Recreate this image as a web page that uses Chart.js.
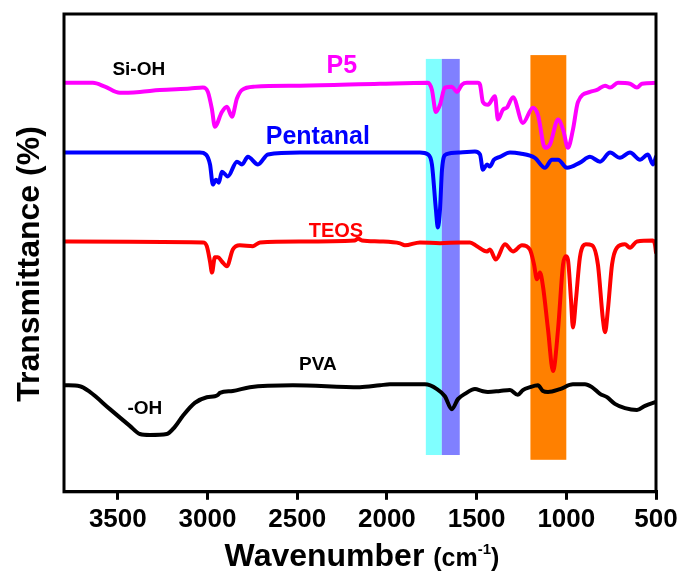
<!DOCTYPE html>
<html>
<head>
<meta charset="utf-8">
<script src="https://cdn.jsdelivr.net/npm/chart.js@4/dist/chart.umd.min.js"></script>
<style>
html,body{margin:0;padding:0;background:#fff;}
#wrap{width:684px;height:574px;}
</style>
</head>
<body>
<div id="wrap"><canvas id="c" width="684" height="574"></canvas></div>
<script>
// ---- data (wavenumber cm-1, relative transmittance) ----
const p5Wn = [3795,3639,3572,3489,3377,3266,3098,3026,2998,2975,2959,2920,2892,2864,2836,2808,2736,2485,2039,1771,1749,1727,1704,1677,1638,1610,1582,1554,1493,1481,1465,1437,1398,1381,1353,1331,1297,1242,1186,1158,1119,1091,1046,1018,991,963,935,868,829,784,756,712,645,606,578,500];
const p5T  = [85.6,85.6,84.8,83.5,83.7,84.1,84.4,84.6,83.7,80.0,76.4,79.5,80.6,78.5,82.3,84.1,84.8,85.0,85.4,85.6,84.1,79.5,81.0,84.6,84.8,83.7,85.2,85.6,85.6,85.2,81.6,81.0,82.8,77.9,80.0,80.4,82.6,77.2,80.4,78.9,72.0,72.7,77.9,75.8,72.0,75.8,81.6,83.7,84.1,85.0,84.6,85.6,85.4,84.6,85.4,85.6];

const pentWn = [3795,3043,3009,2986,2970,2953,2937,2920,2887,2836,2808,2775,2719,2663,2485,1816,1771,1749,1727,1716,1704,1693,1671,1593,1509,1481,1465,1442,1426,1403,1370,1314,1258,1175,1119,1080,1046,996,924,868,812,756,701,645,589,545,517,500];
const pentT  = [71.0,71.0,70.6,68.5,64.3,65.3,64.7,67.0,66.0,69.1,68.5,70.1,68.5,70.6,71.0,71.0,70.6,68.5,59.1,55.3,59.1,67.4,70.6,71.0,71.2,70.6,67.4,68.5,68.1,69.5,70.1,71.0,70.8,69.9,67.8,69.5,69.5,67.8,68.9,70.1,69.1,71.0,69.9,71.0,69.5,70.6,68.5,70.1];

const teosWn = [3795,3026,3004,2986,2975,2959,2942,2920,2892,2859,2820,2747,2708,2485,2178,2162,2139,2039,1927,1900,1816,1704,1593,1537,1498,1442,1426,1393,1342,1297,1247,1203,1180,1164,1147,1130,1102,1074,1046,1018,1002,991,974,963,946,924,891,857,824,796,784,768,745,718,673,645,606,517,506,500];
const teosT  = [52.4,52.2,51.4,48.2,45.9,49.1,49.1,48.2,47.2,50.7,51.6,51.4,52.2,52.4,52.6,53.0,52.6,52.4,52.0,51.6,52.2,52.0,52.2,52.2,51.4,50.3,50.7,48.6,51.8,50.3,51.6,50.7,47.6,44.5,45.9,43.0,34.0,25.3,34.0,47.6,49.3,48.6,40.3,34.4,40.3,49.1,51.8,51.6,47.6,36.1,33.4,38.2,47.6,51.1,51.8,51.1,52.4,52.6,51.8,50.1];

const pvaWn = [3795,3712,3656,3544,3433,3377,3321,3227,3182,3137,3071,3004,2959,2942,2931,2859,2764,2524,2151,2039,1983,1788,1721,1677,1638,1604,1565,1509,1470,1437,1370,1314,1270,1242,1203,1158,1130,1102,1035,963,896,857,812,773,729,673,606,561,500];
const pvaT  = [22.3,22.1,20.9,17.3,13.8,12.1,11.9,12.1,13.6,15.9,18.6,19.8,20.0,20.3,20.7,21.1,21.9,22.3,21.9,22.3,22.5,22.5,21.5,20.0,17.3,19.4,20.5,21.5,21.1,20.9,21.1,21.3,20.3,21.3,21.9,22.3,21.1,20.9,21.5,22.5,22.5,21.9,20.5,19.8,18.4,17.5,17.1,18.0,18.8];

const seriesNames  = ['P5','Pentanal','TEOS','PVA'];
const seriesColors = ['#ff00ff','#0000ff','#ff0000','#000000'];

const tickValues = [3500,3000,2500,2000,1500,1000,500];

// highlight bands: [from wn, to wn, low T, high T, color]
const bandFrom  = [1783,1694,1200];
const bandTo    = [1694,1594,1000];
const bandLow   = [7.7,7.7,6.7];
const bandHigh  = [90.6,90.6,91.4];
const bandColor = ['#80ffff','#8080ff','#ff8000'];

// text annotations: text, wn, T(baseline), size, color
const noteText  = ['Si-OH','P5','Pentanal','TEOS','PVA','-OH'];
const noteWn    = [3383,2251,2385,2284,2385,3349];
const noteT     = [87.3,87.7,72.7,53.4,25.5,16.3];
const noteSize  = [19,25,25,20,19,19];
const noteColor = ['#000000','#ff00ff','#0000ff','#ff0000','#000000','#000000'];

const FONT = '"Liberation Sans", Arial, Helvetica, sans-serif';

function pts(wn, t){ return wn.map((w,i)=>({x:w,y:t[i]})); }
const allWn = [p5Wn,pentWn,teosWn,pvaWn];
const allT  = [p5T,pentT,teosT,pvaT];

const bandsPlugin = {
  id:'bands',
  beforeDatasetsDraw(chart){
    const {ctx, scales:{x,y}} = chart;
    ctx.save();
    for(let i=0;i<bandFrom.length;i++){
      const x1 = x.getPixelForValue(bandFrom[i]);
      const x2 = x.getPixelForValue(bandTo[i]);
      const y1 = y.getPixelForValue(bandHigh[i]);
      const y2 = y.getPixelForValue(bandLow[i]);
      ctx.fillStyle = bandColor[i];
      ctx.fillRect(Math.min(x1,x2), y1, Math.abs(x2-x1), y2-y1);
    }
    ctx.restore();
  }
};

const decoPlugin = {
  id:'deco',
  afterDraw(chart){
    const {ctx, chartArea:a, scales:{x,y}} = chart;
    ctx.save();
    // frame
    ctx.strokeStyle = '#000';
    ctx.lineWidth = 3;
    ctx.strokeRect(a.left, a.top, a.right-a.left, a.bottom-a.top);
    // notes
    ctx.textAlign = 'center';
    ctx.textBaseline = 'alphabetic';
    for(let i=0;i<noteText.length;i++){
      ctx.font = 'bold '+noteSize[i]+'px '+FONT;
      ctx.fillStyle = noteColor[i];
      ctx.fillText(noteText[i], x.getPixelForValue(noteWn[i]), y.getPixelForValue(noteT[i]));
    }
    // y title
    ctx.save();
    ctx.translate(30, 264);
    ctx.rotate(-Math.PI/2);
    ctx.font = 'bold 32px '+FONT;
    ctx.fillStyle = '#000';
    ctx.textBaseline = 'middle';
    ctx.textAlign = 'center';
    ctx.fillText('Transmittance (%)', 0, 0);
    ctx.restore();
    // x title
    const parts = [
      {t:'Wavenumber ', f:'bold 32px '+FONT, dy:0},
      {t:'(cm', f:'bold 25px '+FONT, dy:0},
      {t:'-1', f:'bold 15px '+FONT, dy:-12},
      {t:')', f:'bold 25px '+FONT, dy:0}
    ];
    let total = 0;
    parts.forEach(p=>{ ctx.font=p.f; p.w = ctx.measureText(p.t).width; total += p.w; });
    let cx = (a.left+a.right)/2 + 2 - total/2;
    const base = 566;
    ctx.textAlign = 'left';
    ctx.fillStyle = '#000';
    parts.forEach(p=>{ ctx.font=p.f; ctx.fillText(p.t, cx, base+p.dy); cx += p.w; });
    ctx.restore();
  }
};

new Chart(document.getElementById('c'), {
  type:'line',
  data:{
    datasets: seriesNames.map((n,i)=>({
      label:n,
      data: pts(allWn[i], allT[i]),
      borderColor: seriesColors[i],
      backgroundColor: seriesColors[i],
      borderWidth: 4,
      pointRadius: 0,
      cubicInterpolationMode:'monotone',
      borderJoinStyle:'round',
      borderCapStyle:'round',
      fill:false
    }))
  },
  options:{
    responsive:false,
    animation:false,
    layout:{padding:{left:64, top:14, right:28, bottom:35}},
    plugins:{legend:{display:false}, tooltip:{enabled:false}},
    scales:{
      x:{
        type:'linear',
        reverse:true,
        min:500, max:3800,
        afterBuildTicks(scale){ scale.ticks = tickValues.map(v=>({value:v})); },
        ticks:{color:'#000', font:{family:FONT, size:26, weight:'bold'}, padding:4, maxRotation:0, autoSkip:false,
               callback:(v)=>String(v)},
        grid:{display:true, drawOnChartArea:false, tickLength:8, lineWidth:3, color:'#000'},
        border:{display:true, width:3, color:'#000'}
      },
      y:{
        display:false,
        min:0, max:100
      }
    }
  },
  plugins:[bandsPlugin, decoPlugin]
});
</script>
</body>
</html>
